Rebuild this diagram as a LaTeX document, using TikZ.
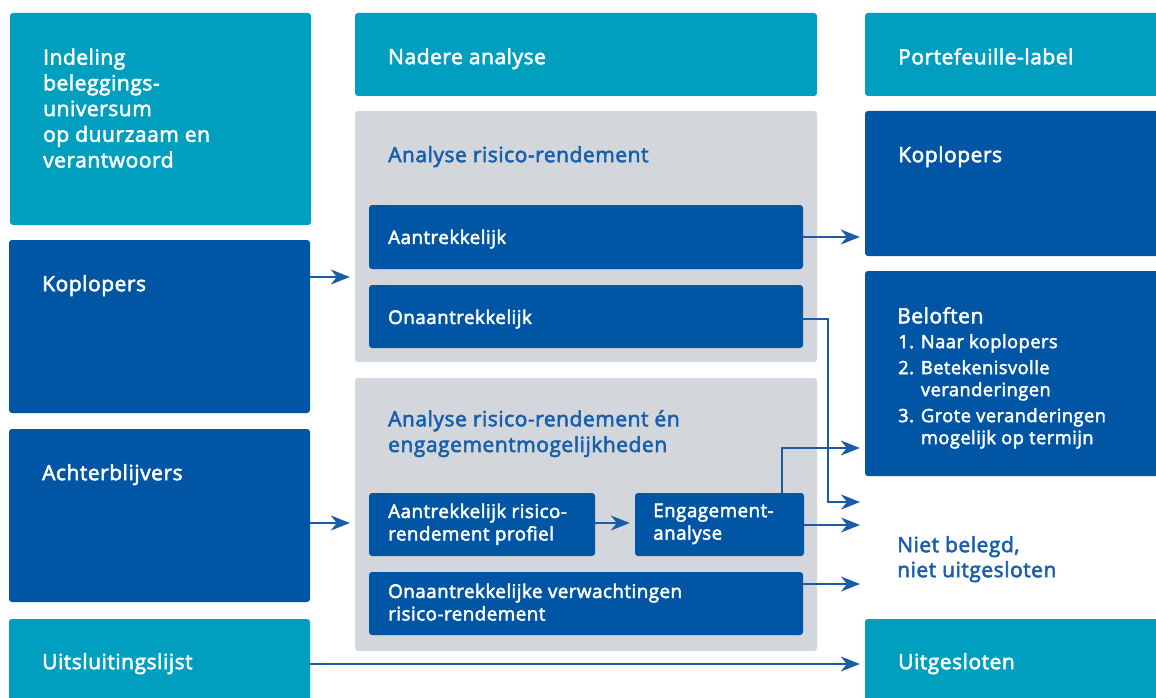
\documentclass[tikz,border=0pt]{standalone}
\usepackage{fontspec}
\setmainfont{Open Sans}[FakeBold=2.6, LetterSpace=2.5]
\usetikzlibrary{arrows.meta}
\definecolor{cTeal}{HTML}{009FC0}
\definecolor{cDark}{HTML}{0055A5}
\definecolor{cGray}{HTML}{D3D7DB}
\definecolor{cText}{HTML}{175EAC}
\definecolor{cArrow}{HTML}{1A5CA8}
\newcommand\bx[6]{\node[boxs, fill=#6, minimum width={#4-#2}, minimum height={#5-#3}] (#1) at ({(#2+#4)/2},{(#3+#5)/2}) {};}
\begin{document}
\begin{tikzpicture}[x=1pt,y=-1pt,
  boxs/.style={rectangle, rounded corners=3pt, inner sep=0pt, draw=none},
  hd/.style={anchor=north west, inner sep=0pt, align=left, text=white, font=\fontsize{21}{25.7}\selectfont},
  sm/.style={anchor=north west, inner sep=0pt, align=left, text=white, font=\fontsize{18.8}{22.5}\selectfont},
  bl/.style={hd, text=cText},
  arr/.style={draw=cArrow, line width=1.6pt, -{Stealth[length=19pt, width=15pt, inset=6pt]}}
]
\clip (0,0) rectangle (1156,698);
\useasboundingbox (0,0) rectangle (1156,698);
% left column
\bx{indel}{10}{13}{311}{225}{cTeal}
\bx{kopL}{9}{240}{310}{413}{cDark}
\bx{achter}{9}{429}{310}{602}{cDark}
\bx{uitsl}{9}{619}{310}{710}{cTeal}
% middle column
\bx{nadere}{355}{13}{817}{96}{cTeal}
\bx{panelA}{355}{111}{817}{362}{cGray}
\bx{aantr}{369}{205}{803}{269}{cDark}
\bx{onaantr}{369}{285}{803}{348}{cDark}
\bx{panelB}{355}{378}{817}{651}{cGray}
\bx{aprof}{369}{493}{595}{556}{cDark}
\bx{engag}{635}{493}{804}{556}{cDark}
\bx{onverw}{369}{572}{803}{635}{cDark}
% right column
\bx{label}{865}{13}{1166}{96}{cTeal}
\bx{kopR}{865}{111}{1166}{256}{cDark}
\bx{belof}{865}{271}{1166}{476}{cDark}
\bx{uitg}{865}{619}{1166}{710}{cTeal}
% texts
\node[hd] (tIndel) at (43,48.5) {Indeling\\beleggings-\\universum\\op duurzaam en\\verantwoord};
\node[hd] (tKopL) at (42,275) {Koplopers};
\node[hd] (tAchter) at (42,464) {Achterblijvers};
\node[hd] (tUitsl) at (42,653) {Uitsluitingslijst};
\node[hd] (tNadere) at (388,48) {Nadere analyse};
\node[bl] (tPanelA) at (388,146) {Analyse risico-rendement};
\node[sm] (tAantr) at (388,229.5) {Aantrekkelijk};
\node[sm] (tOnaantr) at (388,309.5) {Onaantrekkelijk};
\node[bl] (tPanelB) at (388,410) {Analyse risico-rendement én\\engagementmogelijkheden};
\node[sm] (tAprof) at (388,503.5) {Aantrekkelijk risico-\\rendement profiel};
\node[sm] (tEngag) at (653,503.5) {Engagement-\\analyse};
\node[sm] (tOnverw) at (388,583.5) {Onaantrekkelijke verwachtingen\\risico-rendement};
\node[hd] (tLabel) at (898,48) {Portefeuille-label};
\node[hd] (tKopR) at (898,146) {Koplopers};
\node[hd] (tBelof) at (897,307) {Beloften};
\node[sm, font=\fontsize{18.3}{22}\selectfont] (tList) at (898,334) {1. Naar koplopers\\[4pt]2. Betekenisvolle\\\phantom{2. }veranderingen\\[4pt]3. Grote veranderingen\\\phantom{3. }mogelijk op termijn};
\node[bl, font=\fontsize{21}{25}\selectfont] (tNiet) at (897,536) {Niet belegd,\\niet uitgesloten};
\node[hd] (tUitg) at (898,653) {Uitgesloten};
% connector coordinates
\coordinate (nietIn) at (860,502);
\coordinate (engUp) at (782,448);
\coordinate (engOut) at (860,525);
\coordinate (verwOut) at (860,584);
% arrows
\draw[arr, shorten >=5pt] (kopL.east |- 0,277) -- (panelA.west |- 0,277);
\draw[arr, shorten >=5pt] (achter.east |- 0,523) -- (panelB.west |- 0,523);
\draw[arr, shorten >=5pt] (aantr.east |- 0,237) -- (kopR.west |- 0,237);
\draw[arr] (onaantr.east |- 0,319) -| (828,502) -- (nietIn);
\draw[arr, shorten >=5pt] (aprof.east |- 0,523) -- (engag.west |- 0,523);
\draw[arr, shorten >=5pt] (engag.north -| engUp) |- (belof.west |- engUp);
\draw[arr] (engag.east |- engOut) -- (engOut);
\draw[arr] (onverw.east |- verwOut) -- (verwOut);
\draw[arr, shorten >=5pt] (uitsl.east |- 0,664) -- (uitg.west |- 0,664);
\end{tikzpicture}
\end{document}
